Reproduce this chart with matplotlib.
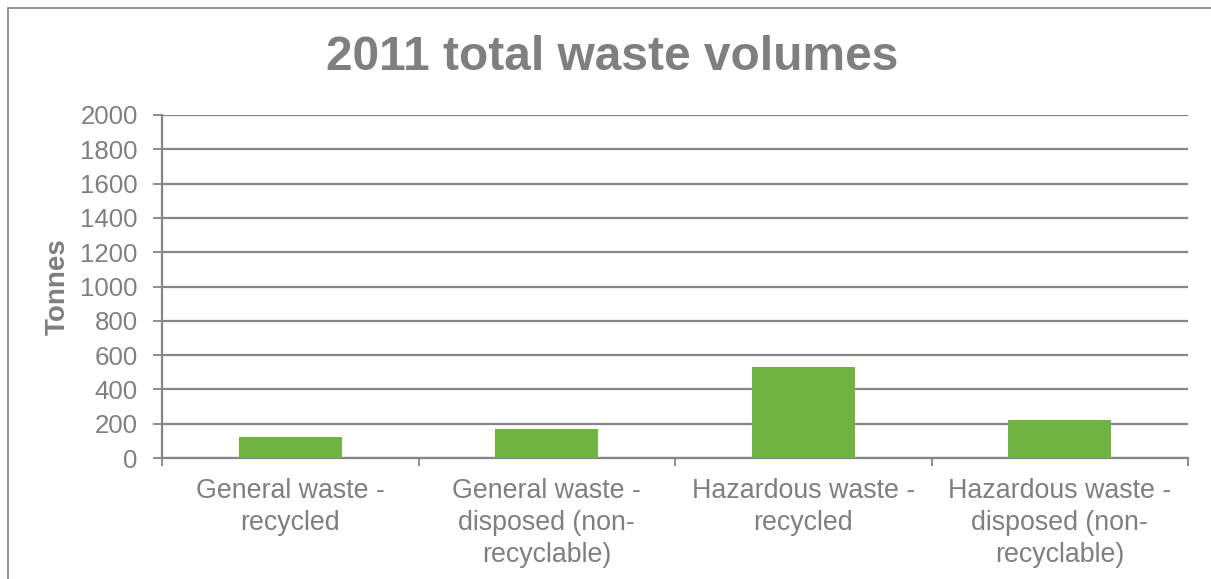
import matplotlib
matplotlib.use("Agg")
import matplotlib.pyplot as plt
import matplotlib.patches as mpatches

categories = [
    "General waste -\nrecycled",
    "General waste -\ndisposed (non-\nrecyclable)",
    "Hazardous waste -\nrecycled",
    "Hazardous waste -\ndisposed (non-\nrecyclable)",
]
tonnes = [122, 169, 529, 222]
y_ticks = [0, 200, 400, 600, 800, 1000, 1200, 1400, 1600, 1800, 2000]

text_color = "#7f7f7f"
line_color = "#868686"
bar_color = "#71b340"

plt.rcParams.update({"font.family": ["Liberation Sans", "DejaVu Sans"]})

W, H = 1211, 579
fig = plt.figure(figsize=(W / 100, H / 100), dpi=100, facecolor="white")
ax = fig.add_axes([162 / W, 1 - 458 / H, (1188 - 162) / W, (458 - 115) / H])

x = list(range(len(categories)))
ax.bar(x, tonnes, width=0.40, color=bar_color, zorder=3)

ax.set_ylim(0, 2000)
ax.set_xlim(-0.5, len(categories) - 0.5)
ax.set_yticks(y_ticks)
ax.set_yticklabels([str(v) for v in y_ticks])
ax.yaxis.grid(True, color=line_color, linewidth=1.6, zorder=1)
ax.set_axisbelow(True)

ax.set_xticks(x)
ax.set_xticklabels(categories, linespacing=1.3)
ax.set_xticks([i - 0.5 for i in range(len(categories) + 1)], minor=True)
ax.tick_params(axis="x", which="major", length=0, pad=14.5, labelsize=19.3, colors=text_color)
ax.tick_params(axis="x", which="minor", length=5.5, width=1.3, color=line_color, direction="out")
ax.tick_params(axis="y", length=6.5, width=1.3, color=line_color, pad=11, labelsize=18.6,
               labelcolor=text_color)

for side in ("top", "right"):
    ax.spines[side].set_visible(False)
for side in ("left", "bottom"):
    ax.spines[side].set_color(line_color)
    ax.spines[side].set_linewidth(1.6)

fig.text(612 / W, 1 - 58 / H, "2011 total waste volumes", ha="center", va="center",
         fontsize=34.5, fontweight="bold", color=text_color)
fig.text(58 / W, 1 - 287 / H, "Tonnes", ha="center", va="center", rotation=90,
         fontsize=20, fontweight="bold", color=text_color)

# outer chart border (cropped on right/bottom)
border = mpatches.Rectangle((7.5 / W, -0.1), 1.2, 1.1 - 7.5 / H, transform=fig.transFigure,
                            fill=False, edgecolor="#8c8c8c", linewidth=1.3)
fig.patches.append(border)

fig.savefig("out.png", dpi=100, facecolor="white")
